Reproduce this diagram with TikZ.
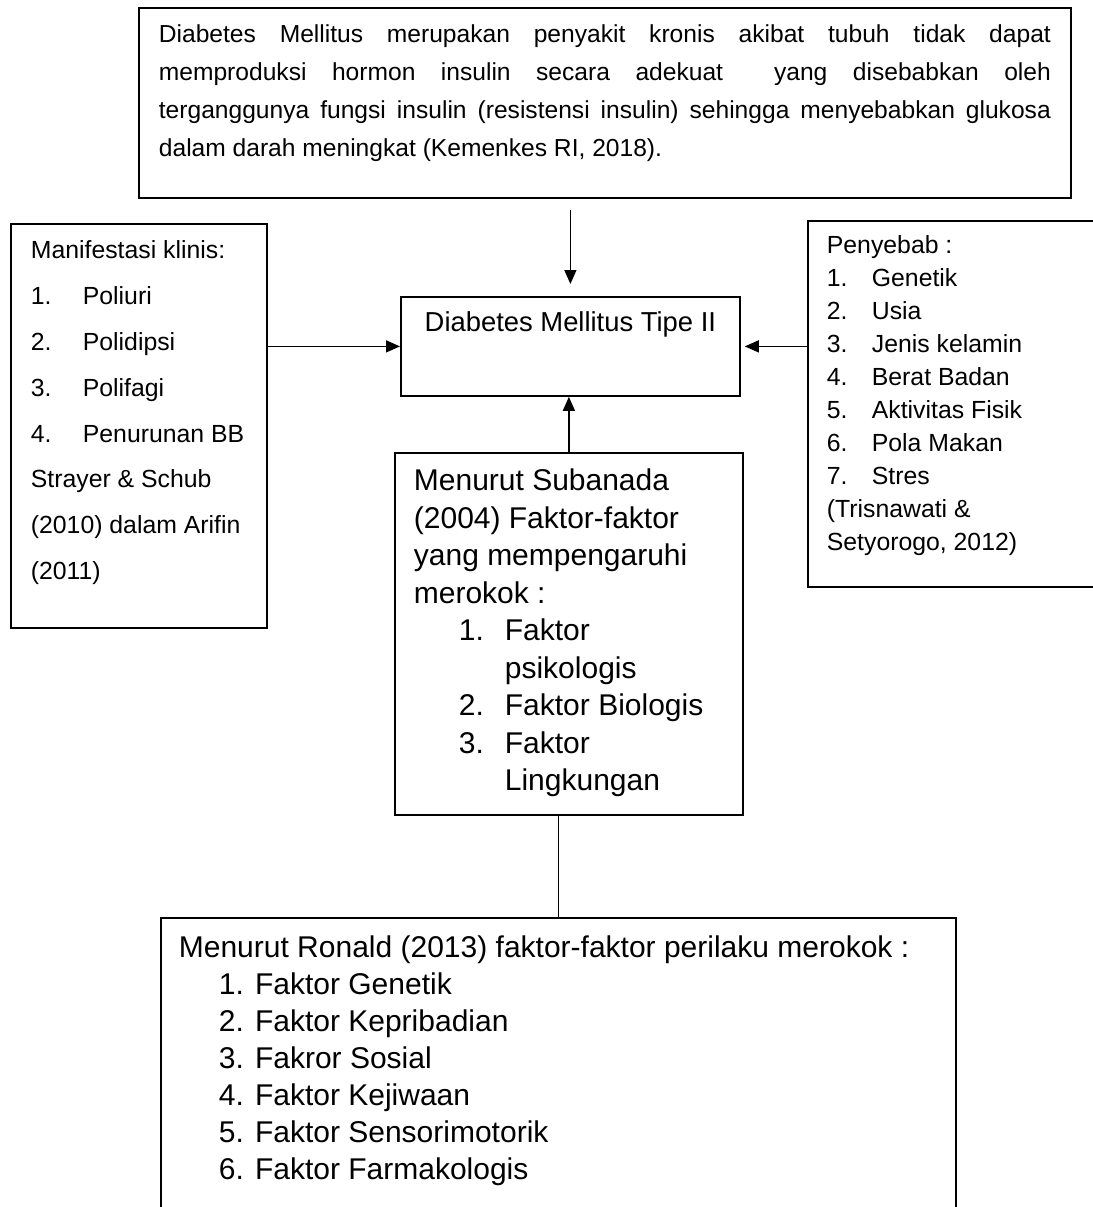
\documentclass[tikz,border=0pt]{standalone}
\usepackage{fontspec}
\setmainfont{Liberation Sans}
\usetikzlibrary{arrows.meta}
\newcommand{\isikotak}[5]{\parbox[t][#2][t]{#1}{\leftskip=#3\rightskip=#3\relax\rule{0pt}{#4}#5}}
\newcommand{\nomor}[2]{\makebox[#1][l]{#2}}
\tikzset{
  kotak/.style={draw, line width=0.9pt, inner sep=0pt, anchor=north west},
  panah/.style={line width=0.7pt, -{Triangle[length=7pt,width=6pt]}},
}
\begin{document}
\begin{tikzpicture}[x=0.5pt,y=-0.5pt]
\useasboundingbox (0,0) rectangle (1093,1207);
\clip (0,0) rectangle (1093,1207);
\node[kotak, font=\fontsize{12.3}{19}\selectfont] (latar) at (138,7)
  {\isikotak{466pt}{95pt}{10pt}{17.5pt}{Diabetes Mellitus merupakan penyakit kronis akibat tubuh tidak dapat\linebreak
   memproduksi hormon insulin secara adekuat\ \ yang disebabkan oleh\linebreak
   terganggunya fungsi insulin (resistensi insulin) sehingga menyebabkan glukosa\linebreak
   dalam darah meningkat (Kemenkes RI, 2018).}};
\node[kotak, font=\fontsize{13.7}{16}\selectfont] (dm) at (400,296)
  {\parbox[t][49.5pt][t]{169.5pt}{\centering\rule{0pt}{17.5pt}Diabetes Mellitus Tipe II}};
\node[kotak, font=\fontsize{12.4}{22.9}\selectfont] (klinis) at (10,223)
  {\isikotak{128pt}{202pt}{10pt}{17.5pt}{Manifestasi klinis:\\
   \nomor{26pt}{1.}Poliuri\\
   \nomor{26pt}{2.}Polidipsi\\
   \nomor{26pt}{3.}Polifagi\\
   \nomor{26pt}{4.}Penurunan BB\\
   Strayer \& Schub\\
   (2010) dalam Arifin\\
   (2011)}};
\node[kotak, font=\fontsize{12.4}{16.5}\selectfont] (sebab) at (807,220)
  {\isikotak{160pt}{183pt}{9.5pt}{16.5pt}{Penyebab :\\
   \nomor{22.5pt}{1.}Genetik\\
   \nomor{22.5pt}{2.}Usia\\
   \nomor{22.5pt}{3.}Jenis kelamin\\
   \nomor{22.5pt}{4.}Berat Badan\\
   \nomor{22.5pt}{5.}Aktivitas Fisik\\
   \nomor{22.5pt}{6.}Pola Makan\\
   \nomor{22.5pt}{7.}Stres\\
   (Trisnawati \&\\
   Setyorogo, 2012)}};
\node[kotak, font=\fontsize{15}{18.75}\selectfont] (rokok) at (394,452)
  {\isikotak{174pt}{181pt}{9.5pt}{19pt}{Menurut Subanada\\
   (2004) Faktor-faktor\\
   yang mempengaruhi\\
   merokok :\\
   \hspace*{22.5pt}\nomor{23pt}{1.}Faktor\\
   \hspace*{45.5pt}psikologis\\
   \hspace*{22.5pt}\nomor{23pt}{2.}Faktor Biologis\\
   \hspace*{22.5pt}\nomor{23pt}{3.}Faktor\\
   \hspace*{45.5pt}Lingkungan}};
\node[kotak, font=\fontsize{15}{18.5}\selectfont] (ronald) at (160,917)
  {\isikotak{397.5pt}{170pt}{9pt}{20pt}{Menurut Ronald (2013) faktor-faktor perilaku merokok :\\
   \hspace*{20pt}1. Faktor Genetik\\
   \hspace*{20pt}2. Faktor Kepribadian\\
   \hspace*{20pt}3. Fakror Sosial\\
   \hspace*{20pt}4. Faktor Kejiwaan\\
   \hspace*{20pt}5. Faktor Sensorimotorik\\
   \hspace*{20pt}6. Faktor Farmakologis}};
\draw[panah, shorten <=5.5pt, shorten >=6pt] (latar.south -| dm.north) -- (dm.north);
\draw[panah] (klinis.east |- dm.west) -- (dm.west);
\draw[panah, shorten >=2pt] (sebab.west |- dm.east) -- (dm.east);
\draw[panah] (rokok.north) -- (rokok.north |- dm.south);
\draw[line width=0.7pt] (ronald.north |- rokok.south) -- (ronald.north);
\end{tikzpicture}
\end{document}
